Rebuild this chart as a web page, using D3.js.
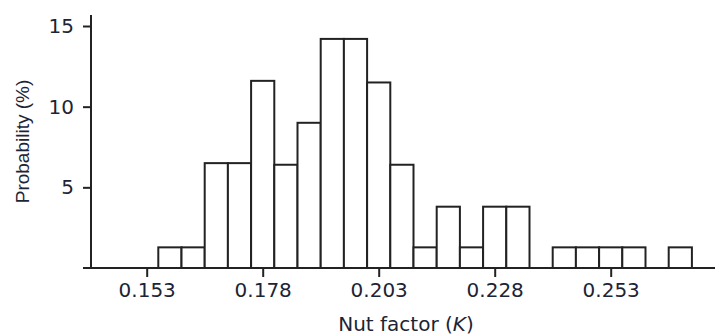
<!DOCTYPE html>
<html><head><meta charset="utf-8">
<script src="https://cdn.jsdelivr.net/npm/d3@7/dist/d3.min.js"></script>
<style>
html,body{margin:0;padding:0;background:#fff;}
svg text{fill:#1c2435;}
</style></head>
<body>
<svg id="chart" width="715" height="335"></svg>
<script>
const binCenters = [0.158,0.163,0.168,0.173,0.178,0.183,0.188,0.193,0.198,0.203,0.208,0.213,0.218,0.223,0.228,0.233,0.238,0.243,0.248,0.253,0.258,0.263,0.268];
const probability = [1.28,1.28,6.5,6.5,11.6,6.4,9.0,14.2,14.2,11.5,6.4,1.28,3.8,1.28,3.8,3.8,0,1.28,1.28,1.28,1.28,0,1.28];
const binWidth = 0.005;
const xTicks = [0.153,0.178,0.203,0.228,0.253];
const yTicks = [5,10,15];

const svg = d3.select("#chart");
const x = d3.scaleLinear().domain([0.153,0.253]).range([146.7,610.7]);
const y = d3.scaleLinear().domain([0,15]).range([268,26]);
const stroke = "#222";
const tickFont = "'DejaVu Sans',sans-serif";

// bars
svg.append("g").selectAll("rect")
  .data(binCenters.map((c,i)=>({c, v:probability[i]})).filter(d=>d.v>0))
  .join("rect")
  .attr("x", d=>x(d.c-binWidth/2))
  .attr("width", d=>x(d.c+binWidth/2)-x(d.c-binWidth/2))
  .attr("y", d=>y(d.v))
  .attr("height", d=>y(0)-y(d.v))
  .attr("fill","#fff").attr("stroke",stroke).attr("stroke-width",2);

// x axis
const xAxis = d3.axisBottom(x).tickValues(xTicks).tickFormat(d3.format(".3f")).tickSize(9).tickPadding(5.5);
const gx = svg.append("g").attr("transform",`translate(0,${y(0)})`).call(xAxis);
gx.select(".domain").remove();
gx.selectAll(".tick line").attr("stroke",stroke).attr("stroke-width",2);
gx.selectAll(".tick text").attr("font-size",20).attr("fill","#1c2435").style("font-family",tickFont);
svg.append("line").attr("x1",83).attr("x2",715).attr("y1",y(0)).attr("y2",y(0)).attr("stroke",stroke).attr("stroke-width",2);

// y axis
const yAxis = d3.axisLeft(y).tickValues(yTicks).tickSize(8).tickPadding(9);
const gy = svg.append("g").attr("transform","translate(91,0)").call(yAxis);
gy.select(".domain").remove();
gy.selectAll(".tick line").attr("stroke",stroke).attr("stroke-width",2);
gy.selectAll(".tick text").attr("font-size",20).attr("fill","#1c2435").style("font-family",tickFont);
svg.append("line").attr("x1",91).attr("x2",91).attr("y1",15).attr("y2",y(0)+1).attr("stroke",stroke).attr("stroke-width",2);

// labels
const xl = svg.append("text").attr("x",406).attr("y",331).attr("text-anchor","middle").attr("font-size",20).style("font-family",tickFont);
xl.append("tspan").text("Nut factor (");
xl.append("tspan").attr("font-style","italic").text("K");
xl.append("tspan").text(")");
svg.append("text").attr("transform","translate(29,141.5) rotate(-90)").attr("text-anchor","middle").attr("font-size",19)
  .style("font-family","'Liberation Sans',Arial,sans-serif").text("Probability (%)");
</script>
</body></html>
